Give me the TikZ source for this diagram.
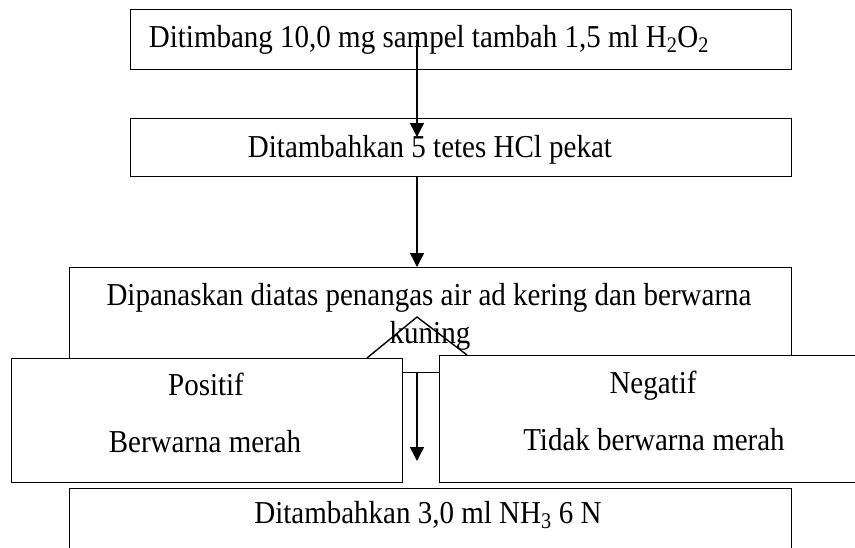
\documentclass[tikz,border=0pt]{standalone}
\usepackage{graphicx}
\usepackage{fontspec}
\setmainfont{Liberation Serif}
\usetikzlibrary{arrows.meta}
\newcommand{\vtxt}[1]{\scalebox{1}[1.1]{#1}}
\begin{document}
\begin{tikzpicture}[x=1pt,y=-1pt,
  box/.style={draw, line width=1.4pt, fill=white, inner sep=0pt, anchor=north west},
  lbl/.style={font=\fontsize{29}{33}\selectfont, inner sep=0pt, anchor=base},
  arr/.style={line width=1.4pt, -{Triangle[length=14pt,width=14pt]}},
  ln/.style={line width=1.4pt}]
\useasboundingbox (0,0) rectangle (855,547);
\clip (0,0) rectangle (855,547);
% boxes
\node[box, minimum width=661pt, minimum height=60pt] (b1) at (130,9) {};
\node[box, minimum width=661pt, minimum height=58pt] (b2) at (130,118) {};
\node[box, minimum width=722pt, minimum height=105pt] (b3) at (69,267) {};
\node[box, minimum width=722pt, minimum height=100pt] (b4) at (69,488) {};
\node[box, minimum width=391pt, minimum height=124pt] (pos) at (11,358) {};
\node[box, minimum width=431pt, minimum height=127pt] (neg) at (439,355) {};
% texts
\node[lbl] (t1) at (429,47) {\vtxt{Ditimbang 10,0 mg sampel tambah 1,5 ml H\textsubscript{2}O\textsubscript{2}}};
\node[lbl] (t2) at (430,157) {\vtxt{Ditambahkan 5 tetes HCl pekat}};
\node[lbl] (t3a) at (429,305) {\vtxt{Dipanaskan diatas penangas air ad kering dan berwarna}};
\node[lbl] (t3b) at (430,343) {\vtxt{kuning}};
\node[lbl] (t4) at (206,395) {\vtxt{Positif}};
\node[lbl] (t5) at (205,452) {\vtxt{Berwarna merah}};
\node[lbl] (t6) at (653,393) {\vtxt{Negatif}};
\node[lbl] (t7) at (654,450) {\vtxt{Tidak berwarna merah}};
\node[lbl] (t8) at (428,523) {\vtxt{Ditambahkan 3,0 ml NH\textsubscript{3} 6 N}};
% connectors
\coordinate (a1s) at (417,40);
\coordinate (a1e) at (417,137);
\draw[arr] (a1s) -- (a1e);
\draw[arr] (b2.south -| a1s) -- (b3.north -| a1s);
\coordinate (apex) at (417,317);
\coordinate (dl) at (367,358);
\coordinate (dr) at (467,355);
\draw[ln] (dl) -- (apex) -- (dr);
\coordinate (a3e) at (417,461);
\draw[arr] (b3.south -| a3e) -- (a3e);
\end{tikzpicture}
\end{document}
